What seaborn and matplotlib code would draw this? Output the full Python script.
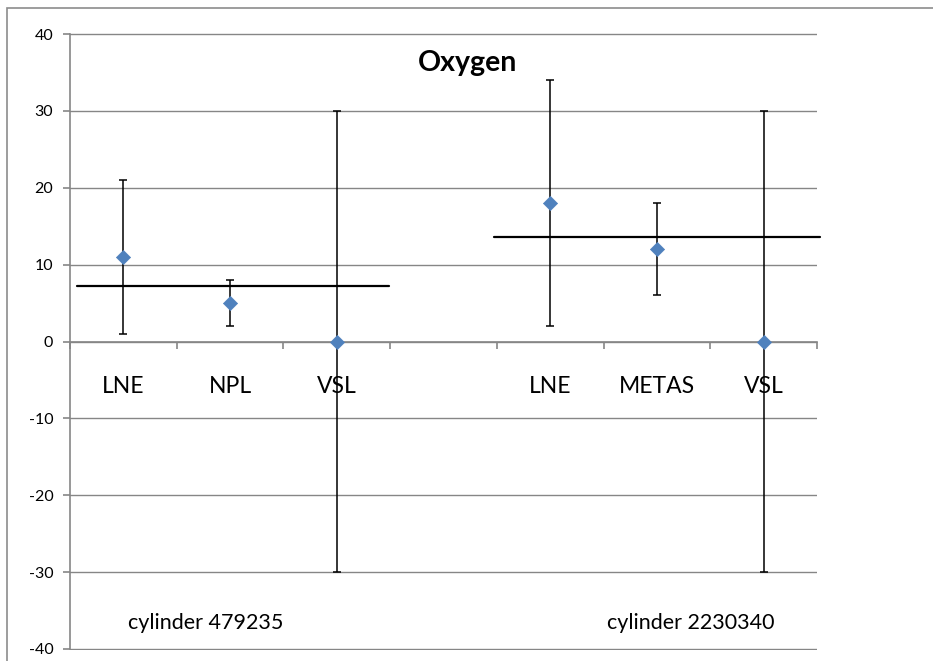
import matplotlib
matplotlib.use("Agg")
import matplotlib.pyplot as plt
import seaborn as sns
import pandas as pd
from matplotlib.patches import Rectangle

# ---- data ----
categories = ["LNE", "NPL", "VSL", "", "LNE", "METAS", "VSL"]
values = [11, 5, 0, None, 18, 12, 0]
err_low = [10, 3, 30, None, 16, 6, 30]
err_high = [10, 3, 30, None, 16, 6, 30]
ref_values = [7.2, 13.6]
ref_start = [-0.43, 3.47]
ref_end = [2.49, 6.53]
group_labels = ["cylinder 479235", "cylinder 2230340"]
group_label_x = [0.77, 5.32]
group_label_y = -36.7
title = "Oxygen"
yticks = [-40, -30, -20, -10, 0, 10, 20, 30, 40]

sns.set_theme(style="white")
plt.rcParams["font.family"] = ["Lato", "DejaVu Sans"]

GRID = "#868686"
BLUE = "#4F81BD"

fig = plt.figure(figsize=(9.33, 6.61), dpi=100)
ax = fig.add_axes([70 / 933, 11 / 661, 747 / 933, 617 / 661])

pos = list(range(len(categories)))
df = pd.DataFrame({"x": pos, "y": values, "lo": err_low, "hi": err_high, "cat": categories}).dropna()

ax.errorbar(df["x"], df["y"], yerr=[df["lo"], df["hi"]], fmt="none",
            ecolor="black", elinewidth=1.1, capsize=3.2, capthick=1.1, zorder=3)
sns.scatterplot(data=df, x="x", y="y", marker="D", s=52, color=BLUE,
                edgecolor=BLUE, linewidth=0.5, ax=ax, zorder=5, legend=False)

for v, s, e in zip(ref_values, ref_start, ref_end):
    ax.plot([s, e], [v, v], color="black", lw=1.6, zorder=4, clip_on=False)

ax.set_xlim(-0.5, len(categories) - 0.5)
ax.set_ylim(-40.15, 40.15)
ax.set_yticks(yticks)
ax.set_yticklabels([str(t) for t in yticks], fontsize=11.5)
ax.yaxis.grid(True, color=GRID, lw=1)
ax.set_axisbelow(True)
ax.set_xlabel("")
ax.set_ylabel("")

for sp in ["top", "right"]:
    ax.spines[sp].set_visible(False)
ax.spines["left"].set_color(GRID)
ax.spines["left"].set_linewidth(1.2)
ax.spines["left"].set_bounds(-40, 40)
ax.spines["bottom"].set_position(("data", 0))
ax.spines["bottom"].set_color(GRID)
ax.spines["bottom"].set_linewidth(1.2)
ax.set_xticks([i - 0.5 for i in range(len(categories) + 1)])
ax.set_xticklabels([])
ax.tick_params(axis="x", direction="out", length=5, width=1.2, color=GRID,
               bottom=True, top=False)
ax.tick_params(axis="y", direction="out", length=5, width=1.2, color=GRID, left=True,
               right=False, labelcolor="black", pad=7)

for i, c in enumerate(categories):
    if c:
        ax.text(i, -5.9, c, ha="center", va="center", fontsize=16.5, color="black")

for lbl, gx in zip(group_labels, group_label_x):
    ax.text(gx, group_label_y, lbl, ha="center", va="center", fontsize=15.5, color="black")

ax.text(3.23, 36.2, title, ha="center", va="center", fontsize=20.5, fontweight="bold", color="black")

fig.patches.append(Rectangle((7 / 933, -0.1), 1.2, 1 - 8 / 661 + 0.1, transform=fig.transFigure,
                             fill=False, edgecolor="#8c8c8c", lw=1.2))

fig.savefig("out.png", dpi=100)
